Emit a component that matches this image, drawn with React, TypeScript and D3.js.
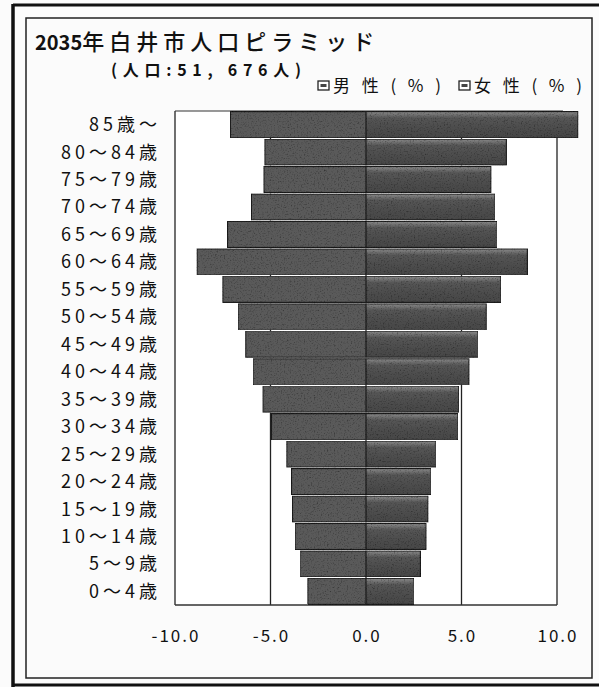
import React from "react";
import * as d3 from "d3";

const ageGroups = [
  "85歳～", "80～84歳", "75～79歳", "70～74歳", "65～69歳", "60～64歳",
  "55～59歳", "50～54歳", "45～49歳", "40～44歳", "35～39歳", "30～34歳",
  "25～29歳", "20～24歳", "15～19歳", "10～14歳", "5～9歳", "0～4歳",
];
const malePct = [7.1, 5.3, 5.35, 6.0, 7.25, 8.85, 7.5, 6.7, 6.3, 5.9, 5.4, 4.95, 4.15, 3.9, 3.85, 3.7, 3.45, 3.05];
const femalePct = [11.1, 7.35, 6.55, 6.75, 6.85, 8.45, 7.05, 6.3, 5.85, 5.4, 4.85, 4.8, 3.65, 3.4, 3.25, 3.15, 2.85, 2.5];
const xTicks = [-10, -5, 0, 5, 10];
const titleYear = "2035";
const titleRest = "年白井市人口ピラミッド";
const subtitle = "(人口:51, 676人)";
const legendLabels = ["男性(%)", "女性(%)"];

const W = 599;
const H = 687;
const JP = "'Noto Sans CJK JP', 'Noto Sans', sans-serif";

export default function App() {
  const x = d3.scaleLinear().domain([-10, 10]).range([175, 557]);
  const y = d3.scaleBand<string>().domain(ageGroups).range([111, 605]).paddingInner(0.05).paddingOuter(0.02);
  const bw = y.bandwidth();
  const x0 = x(0);

  return (
    <svg width={W} height={H} style={{ position: "absolute", left: 0, top: 0, background: "#fbfbfb" }}>
      <defs>
        <filter id="grain" x="0" y="0" width="100%" height="100%">
          <feTurbulence type="fractalNoise" baseFrequency="0.7" numOctaves="2" seed="4" result="noise" />
          <feColorMatrix in="noise" type="matrix" values="1 0 0 0 0  1 0 0 0 0  1 0 0 0 0  0 0 0 0 1" result="g" />
          <feComponentTransfer in="g" result="g2">
            <feFuncR type="linear" slope="1.6" intercept="0.2" />
            <feFuncG type="linear" slope="1.6" intercept="0.2" />
            <feFuncB type="linear" slope="1.6" intercept="0.2" />
          </feComponentTransfer>
          <feBlend in="SourceGraphic" in2="g2" mode="multiply" result="b" />
          <feComposite in="b" in2="SourceGraphic" operator="in" />
        </filter>
        <linearGradient id="fgrad" x1="0" y1="0" x2="0" y2="1">
          <stop offset="0" stopColor="#8a8a8a" />
          <stop offset="0.25" stopColor="#555" />
          <stop offset="1" stopColor="#464646" />
        </linearGradient>
      </defs>

      {/* outer scan frame */}
      <line x1={13} y1={5} x2={599} y2={5} stroke="#111" strokeWidth={3} />
      <line x1={13} y1={4} x2={13} y2={687} stroke="#111" strokeWidth={3.5} />
      <line x1={13} y1={685} x2={599} y2={685} stroke="#111" strokeWidth={3} />
      {/* inner chart frame */}
      <rect x={26} y={18} width={566} height={660} fill="none" stroke="#222" strokeWidth={1.5} />

      {/* title */}
      <text x={35} y={50} fontFamily={JP} fill="#111">
        <tspan fontSize={20} fontWeight={700}>{titleYear}</tspan>
        <tspan fontSize={22} fontWeight={500} letterSpacing={5}>{titleRest}</tspan>
      </text>
      <text x={111} y={76} fontFamily={JP} fontSize={16} fontWeight={700} fill="#111"
        textLength={190} lengthAdjust="spacing">{subtitle}</text>

      {/* legend */}
      {legendLabels.map((lab, i) => {
        const lx = i === 0 ? 318 : 459;
        return (
          <g key={lab}>
            <rect x={lx} y={81} width={11} height={9} fill="#fff" stroke="#222" strokeWidth={1.3} />
            <rect x={lx + 2.5} y={84} width={6} height={3} fill="#444" />
            <text x={lx + 15} y={92} fontFamily={JP} fontSize={17} fill="#111"
              textLength={108} lengthAdjust="spacing">{lab}</text>
          </g>
        );
      })}

      {/* plot area */}
      <rect x={x(-10)} y={111} width={x(10) - x(-10)} height={605 - 111} fill="#fff" stroke="none" />
      {xTicks.map((t) => (
        <line key={t} x1={x(t)} x2={x(t)} y1={111} y2={605} stroke="#222" strokeWidth={1.3} />
      ))}
      <line x1={x(-10)} x2={x(10) + 6} y1={111} y2={111} stroke="#333" strokeWidth={1.2} />
      <line x1={x(-10)} x2={x(10)} y1={605} y2={605} stroke="#333" strokeWidth={1.5} />

      {/* bars */}
      {ageGroups.map((g, i) => {
        const yy = y(g)!;
        return (
          <g key={g}>
            <rect x={x(-malePct[i])} y={yy} width={x0 - x(-malePct[i])} height={bw}
              fill="#5a5a5a" stroke="#1a1a1a" strokeWidth={1.2} filter="url(#grain)" />
            <rect x={x0} y={yy} width={x(femalePct[i]) - x0} height={bw}
              fill="url(#fgrad)" stroke="#1a1a1a" strokeWidth={1.2} filter="url(#grain)" />
          </g>
        );
      })}

      {/* category labels */}
      {ageGroups.map((g) => (
        <text key={g} x={161} y={y(g)! + bw / 2} dy="0.36em" textAnchor="end"
          fontFamily={JP} fontSize={18} letterSpacing={4} fill="#111">{g}</text>
      ))}

      {/* x tick labels */}
      {xTicks.map((t) => (
        <text key={t} x={x(t) + 1} y={642} textAnchor="middle" fontFamily={JP}
          fontSize={17} letterSpacing={2} fill="#111">
          {d3.format(".1f")(t).replace("−", "-")}
        </text>
      ))}
    </svg>
  );
}
